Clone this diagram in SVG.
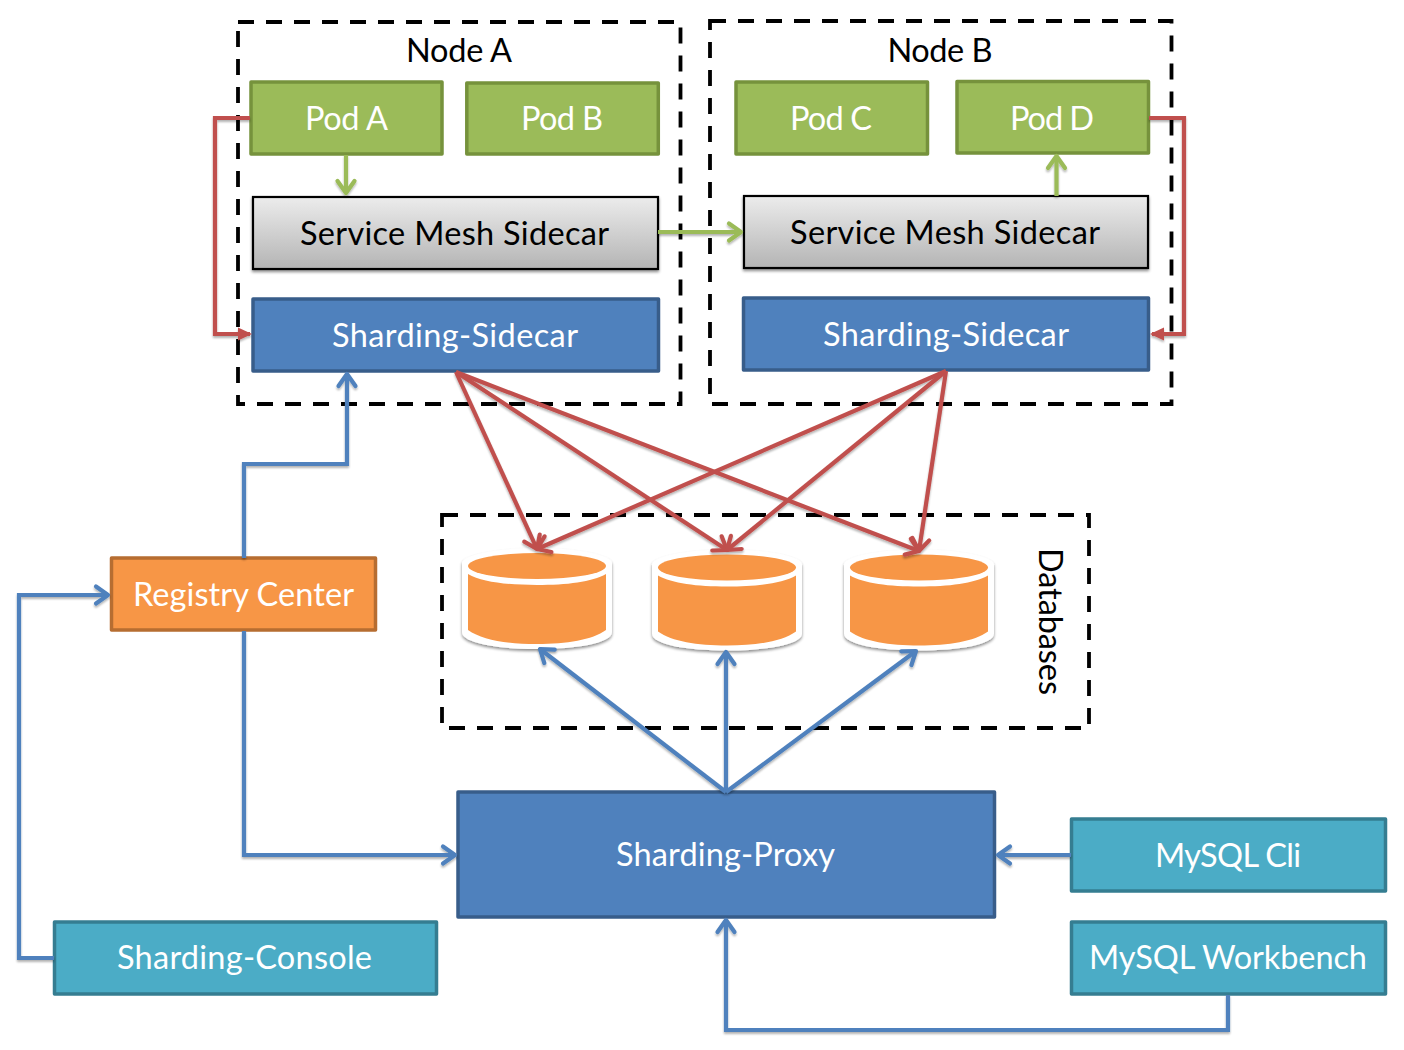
<svg xmlns="http://www.w3.org/2000/svg" width="1404" height="1050" viewBox="0 0 1404 1050">
<style>
text{font-family:"Lato","Liberation Sans",sans-serif;font-size:32.5px;text-anchor:middle}
.w{fill:#fff}.k{fill:#000}
.dash{fill:none;stroke:#000;stroke-width:3.8;stroke-dasharray:16 12}
.g,.b,.o,.t{stroke-width:3.5;stroke-linejoin:round}
.g{fill:#9bbb59;stroke:#76923c}
.b{fill:#4f81bd;stroke:#385d8a}
.o{fill:#f79646;stroke:#b66d31}
.t{fill:#4bacc6;stroke:#357d91}
.s{fill:url(#sil);stroke:#000;stroke-width:2.2;filter:url(#sh)}
.c{fill:none;stroke-width:4.2;stroke-linejoin:miter;filter:url(#csh)}
.red{stroke:#c0504d}.grn{stroke:#9bbb59}.blu{stroke:#4f81bd}
.h{fill:none;stroke-width:4.2;stroke-linecap:round;stroke-linejoin:round}
.dbw{fill:#fff;filter:url(#sh)}.dbo{fill:#f79646}
</style>
<defs>
<linearGradient id="sil" x1="0" y1="0" x2="0" y2="1"><stop offset="0" stop-color="#ececec"/><stop offset="1" stop-color="#b4b4b4"/></linearGradient>
<filter id="sh" x="-10%" y="-10%" width="120%" height="125%"><feGaussianBlur in="SourceAlpha" stdDeviation="1.6"/><feOffset dy="2"/><feComponentTransfer><feFuncA type="linear" slope="0.45"/></feComponentTransfer><feMerge><feMergeNode/><feMergeNode in="SourceGraphic"/></feMerge></filter>
<filter id="csh" filterUnits="userSpaceOnUse" x="0" y="0" width="1404" height="1050"><feGaussianBlur in="SourceAlpha" stdDeviation="1.2"/><feOffset dy="1.5"/><feComponentTransfer><feFuncA type="linear" slope="0.3"/></feComponentTransfer><feMerge><feMergeNode/><feMergeNode in="SourceGraphic"/></feMerge></filter>
<marker id="ar" viewBox="-16 -12 20 24" refX="0" refY="0" markerWidth="20" markerHeight="24" markerUnits="userSpaceOnUse" orient="auto"><path class="h red" d="M-12-8.500L0 0L-12 8.500"/></marker>
<marker id="at" viewBox="-16 -12 20 24" refX="0" refY="0" markerWidth="20" markerHeight="24" markerUnits="userSpaceOnUse" orient="auto"><path fill="#c0504d" d="M-12-6.500L2 0L-12 6.500Z"/></marker>
<marker id="ag" viewBox="-16 -12 20 24" refX="0" refY="0" markerWidth="20" markerHeight="24" markerUnits="userSpaceOnUse" orient="auto"><path class="h grn" d="M-12-8.500L0 0L-12 8.500"/></marker>
<marker id="ab" viewBox="-16 -12 20 24" refX="0" refY="0" markerWidth="20" markerHeight="24" markerUnits="userSpaceOnUse" orient="auto"><path class="h blu" d="M-12-8.500L0 0L-12 8.500"/></marker>
<g id="db"><path class="dbw" d="M-75 -35C-75 -43 -40 -50 0 -50C40 -50 75 -43 75 -35V34C75 45 40 51 0 51C-40 51 -75 45 -75 34Z"/><ellipse class="dbo" cx="0" cy="-32" rx="69" ry="13"/><path class="dbo" d="M-69 -24C-55 -16 -30 -13 0 -13C30 -13 55 -16 69 -24V32C55 42 30 46 0 46C-30 46 -55 42 -69 32Z"/></g>
</defs>
<rect width="1404" height="1050" fill="#fff"/>
<g id="node-a"><rect class="dash" x="238" y="22" width="442.500" height="382"/><text class="k" x="459" y="62" textLength="106">Node A</text></g>
<g id="node-b"><rect class="dash" x="710" y="21" width="461.500" height="383"/><text class="k" x="940" y="62" textLength="105">Node B</text></g>
<g id="databases"><rect class="dash" x="442" y="515" width="647" height="213"/><text class="k" transform="translate(1039 621.500) rotate(90)" textLength="147">Databases</text></g>
<g id="db1"><use href="#db" x="537" y="598"/></g>
<g id="db2"><use href="#db" x="727" y="599.500"/></g>
<g id="db3"><use href="#db" x="919" y="599.500"/></g>
<g id="pod-a"><rect class="g" x="251" y="82" width="191" height="72"/><text class="w" x="346.500" y="130" textLength="83">Pod A</text></g>
<g id="pod-b"><rect class="g" x="466.800" y="83" width="191.500" height="71"/><text class="w" x="562" y="130" textLength="82">Pod B</text></g>
<g id="pod-c"><rect class="g" x="736" y="82" width="191.500" height="72"/><text class="w" x="831" y="130" textLength="82">Pod C</text></g>
<g id="pod-d"><rect class="g" x="957" y="81.500" width="191.500" height="71.500"/><text class="w" x="1052" y="130" textLength="84">Pod D</text></g>
<g id="mesh-a"><rect class="s" x="253" y="197" width="405" height="72"/><text class="k" x="454.500" y="245" textLength="309">Service Mesh Sidecar</text></g>
<g id="mesh-b"><rect class="s" x="744" y="196" width="404" height="72"/><text class="k" x="945" y="244" textLength="310">Service Mesh Sidecar</text></g>
<g id="sharding-a"><rect class="b" x="253" y="299" width="405.500" height="72"/><text class="w" x="455" y="347" textLength="246">Sharding-Sidecar</text></g>
<g id="sharding-b"><rect class="b" x="743.500" y="298" width="405" height="72"/><text class="w" x="946" y="346" textLength="246">Sharding-Sidecar</text></g>
<g id="registry"><rect class="o" x="111.500" y="558" width="264" height="72"/><text class="w" x="243.500" y="606" textLength="221">Registry Center</text></g>
<g id="proxy"><rect class="b" x="458" y="792" width="536.500" height="125"/><text class="w" x="725.500" y="866" textLength="219">Sharding-Proxy</text></g>
<g id="mysql-cli"><rect class="t" x="1071.500" y="819" width="314" height="72"/><text class="w" x="1228" y="866.500" textLength="146">MySQL Cli</text></g>
<g id="workbench"><rect class="t" x="1071.500" y="922" width="314" height="72"/><text class="w" x="1228" y="969" textLength="278">MySQL Workbench</text></g>
<g id="console"><rect class="t" x="54.500" y="922" width="382" height="72"/><text class="w" x="244.500" y="969" textLength="255">Sharding-Console</text></g>
<g id="connectors">
<g class="c red">
<path marker-end="url(#at)" d="M250 118H215V334H250"/>
<path marker-end="url(#at)" d="M1149 118H1184V334H1152"/>
<path marker-end="url(#ar)" d="M456 372L537 549"/>
<path marker-end="url(#ar)" d="M456 372L727 550"/>
<path marker-end="url(#ar)" d="M456 372L919 551"/>
<path marker-end="url(#ar)" d="M946 371L537 549"/>
<path marker-end="url(#ar)" d="M946 371L727 550"/>
<path marker-end="url(#ar)" d="M946 371L919 551"/>
</g>
<g class="c grn">
<path marker-end="url(#ag)" d="M346 155V193"/>
<path marker-end="url(#ag)" d="M658 232H741"/>
<path marker-end="url(#ag)" d="M1056.500 196V156"/>
</g>
<g class="c blu">
<path marker-end="url(#ab)" d="M244 558V464H347V374"/>
<path marker-end="url(#ab)" d="M244 631V855H455"/>
<path marker-end="url(#ab)" d="M54 958H19V595H108"/>
<path marker-end="url(#ab)" d="M726 792L540 649"/>
<path marker-end="url(#ab)" d="M726 792V652"/>
<path marker-end="url(#ab)" d="M726 792L916 651"/>
<path marker-end="url(#ab)" d="M1071 855H998"/>
<path marker-end="url(#ab)" d="M1228 995V1030H726V920"/>
</g>
</g>
</svg>
